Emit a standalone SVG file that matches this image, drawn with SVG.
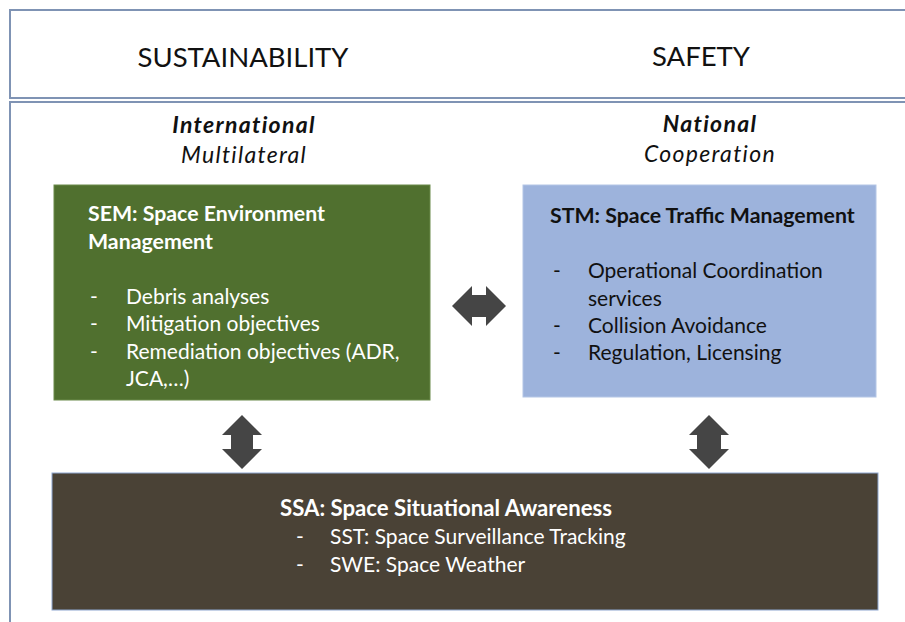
<svg xmlns="http://www.w3.org/2000/svg" width="905" height="622" viewBox="0 0 905 622">
  <defs>
    <style>
      .frame { fill: #ffffff; stroke: #7f93b4; stroke-width: 2; }
      .head { font-family: Lato, "Open Sans", sans-serif; font-size: 27.5px; fill: #111111; text-anchor: middle; }
      .sub { font-family: Lato, "Open Sans", sans-serif; font-size: 23px; letter-spacing: 1.3px; fill: #111111; text-anchor: middle; font-style: italic; }
      .sub.b { font-weight: bold; }
      .t { font-family: Lato, "Open Sans", sans-serif; font-size: 21px; }
      .t.b { font-weight: bold; font-size: 21.3px; }
      .t.b.big { font-size: 22.2px; }
      .light { fill: #ffffff; }
      .dark { fill: #111111; }
      .arrow { fill: #454545; }
    </style>
  </defs>

  <!-- header and body frames -->
  <rect class="frame" x="10" y="10" width="905" height="88"/>
  <rect class="frame" x="10" y="102" width="905" height="530"/>

  <text class="head" x="243" y="67">SUSTAINABILITY</text>
  <text class="head" x="701" y="66">SAFETY</text>

  <text class="sub b" x="244" y="133">International</text>
  <text class="sub" x="244" y="163">Multilateral</text>
  <text class="sub b" x="710" y="132">National</text>
  <text class="sub" x="710" y="162">Cooperation</text>

  <!-- SEM -->
  <g id="sem">
    <rect x="54" y="185" width="376" height="215" fill="#50702f" stroke="#6a8a4a" stroke-width="1"/>
    <text class="t b light" x="88" y="221">SEM: Space Environment</text>
    <text class="t b light" x="88" y="249">Management</text>
    <text class="t light" x="90" y="304">-</text><text class="t light" x="126" y="304">Debris analyses</text>
    <text class="t light" x="90" y="331">-</text><text class="t light" x="126" y="331">Mitigation objectives</text>
    <text class="t light" x="90" y="359">-</text><text class="t light" x="126" y="359">Remediation objectives (ADR,</text>
    <text class="t light" x="126" y="386">JCA,…)</text>
  </g>

  <!-- STM -->
  <g id="stm">
    <rect x="523" y="185" width="353" height="212" fill="#9db3dc" stroke="#b4c6e6" stroke-width="1"/>
    <text class="t b dark" x="550" y="223">STM: Space Traffic Management</text>
    <text class="t dark" x="553" y="278">-</text><text class="t dark" x="588" y="278">Operational Coordination</text>
    <text class="t dark" x="588" y="306">services</text>
    <text class="t dark" x="553" y="333">-</text><text class="t dark" x="588" y="333">Collision Avoidance</text>
    <text class="t dark" x="553" y="360">-</text><text class="t dark" x="588" y="360">Regulation, Licensing</text>
  </g>

  <!-- SSA -->
  <g id="ssa">
    <rect x="52" y="473" width="826" height="137" fill="#4a4236" stroke="#8da6cf" stroke-width="1"/>
    <text class="t b big light" x="280" y="516">SSA: Space Situational Awareness</text>
    <text class="t light" x="296" y="544">-</text><text class="t light" x="330" y="544">SST: Space Surveillance Tracking</text>
    <text class="t light" x="296" y="572">-</text><text class="t light" x="330" y="572">SWE: Space Weather</text>
  </g>

  <!-- connectors -->
  <g id="connectors">
    <polygon class="arrow" points="452,306 472,286 472,295 486,295 486,286 506,306 486,326 486,317 472,317 472,326"/>
    <polygon class="arrow" points="242,415 262,435 253,435 253,449 262,449 242,469 222,449 231,449 231,435 222,435"/>
    <polygon class="arrow" points="709,415 729,435 721,435 721,449 729,449 709,469 689,449 697,449 697,435 689,435"/>
  </g>
</svg>
